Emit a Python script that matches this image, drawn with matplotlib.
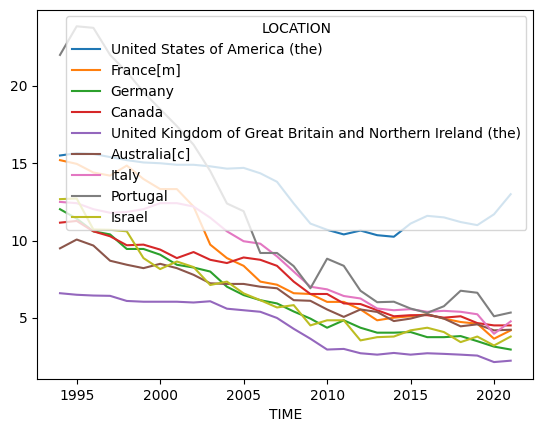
import numpy as np
import pandas as pd
import matplotlib
matplotlib.use("Agg")
import matplotlib.pyplot as plt

years = list(range(1994, 2022))

usa = [15.5, 15.65, 15.6, 15.4, 15.2, 15.05, 15.0, 14.9, 14.9, 14.8, 14.65, 14.7, 14.35, 13.8,
       12.4, 11.1, 10.7, 10.4, 10.65, 10.35, 10.25, 11.1, 11.6, 11.5, 11.2, 11.0, 11.7, 13.0]
france = [15.2, 14.96, 14.4, 14.2, 14.85, 13.98, 13.33, 13.33, 12.2, 9.74, 8.87, 8.37, 7.35, 7.15,
          6.6, 6.55, 6.04, 6.04, 5.55, 4.85, 5.02, 5.11, 5.24, 4.96, 4.74, 4.63, 3.66, 4.2]
germany = [12.03, 11.42, 10.6, 10.4, 9.46, 9.46, 9.09, 8.44, 8.26, 8.0, 7.02, 6.48, 6.15, 5.94,
           5.42, 4.96, 4.37, 4.85, 4.37, 4.05, 4.05, 4.09, 3.76, 3.76, 3.83, 3.5, 3.15, 2.96]
canada = [11.16, 11.27, 10.6, 10.28, 9.7, 9.74, 9.42, 8.87, 9.26, 8.76, 8.55, 8.91, 8.76, 8.37,
          7.35, 6.55, 6.55, 5.94, 5.9, 5.5, 5.11, 5.18, 5.18, 5.02, 5.11, 4.67, 4.52, 4.52]
uk = [6.6, 6.5, 6.45, 6.43, 6.1, 6.05, 6.05, 6.05, 6.0, 6.08, 5.6, 5.5, 5.4, 5.0,
      4.3, 3.66, 2.96, 3.0, 2.72, 2.63, 2.74, 2.63, 2.72, 2.68, 2.63, 2.57, 2.15, 2.24]
australia = [9.5, 10.07, 9.68, 8.7, 8.44, 8.22, 8.5, 8.22, 7.79, 7.24, 7.2, 7.2, 7.02, 6.92,
             6.15, 6.11, 5.55, 5.07, 5.55, 5.39, 4.8, 4.96, 5.24, 4.96, 4.46, 4.59, 4.2, 4.24]
italy = [12.5, 12.42, 12.03, 11.8, 11.85, 12.03, 12.42, 12.42, 12.2, 11.48, 10.6, 9.96, 9.8, 8.98,
         8.0, 7.02, 6.85, 6.42, 6.26, 5.61, 5.5, 5.57, 5.4, 5.46, 5.4, 5.24, 3.98, 4.78]
portugal = [22.0, 23.85, 23.75, 22.0, 20.9, 19.6, 18.5, 17.4, 16.2, 14.5, 12.4, 11.9, 9.2, 9.2,
            8.35, 6.92, 8.83, 8.37, 6.76, 6.02, 6.05, 5.61, 5.33, 5.76, 6.76, 6.63, 5.11, 5.35]
israel = [12.68, 12.72, 10.72, 10.7, 10.6, 8.87, 8.16, 8.65, 8.29, 7.13, 7.35, 6.59, 6.15, 5.68,
          5.83, 4.52, 4.85, 4.85, 3.55, 3.76, 3.8, 4.2, 4.37, 4.09, 3.44, 3.8, 3.22, 3.8]

locations = ["United States of America (the)", "France[m]", "Germany", "Canada",
             "United Kingdom of Great Britain and Northern Ireland (the)",
             "Australia[c]", "Italy", "Portugal", "Israel"]

df = pd.DataFrame(
    dict(zip(locations, [usa, france, germany, canada, uk, australia, italy, portugal, israel])),
    index=pd.Index(years, name="TIME"),
)

fig, ax = plt.subplots(figsize=(5.43, 4.32), dpi=100)
fig.subplots_adjust(left=0.069, right=0.982, top=0.978, bottom=0.123)
df.plot(ax=ax)
ax.legend(title="LOCATION", loc="upper right")
ax.set_xlabel("TIME")
fig.savefig("out.png")
